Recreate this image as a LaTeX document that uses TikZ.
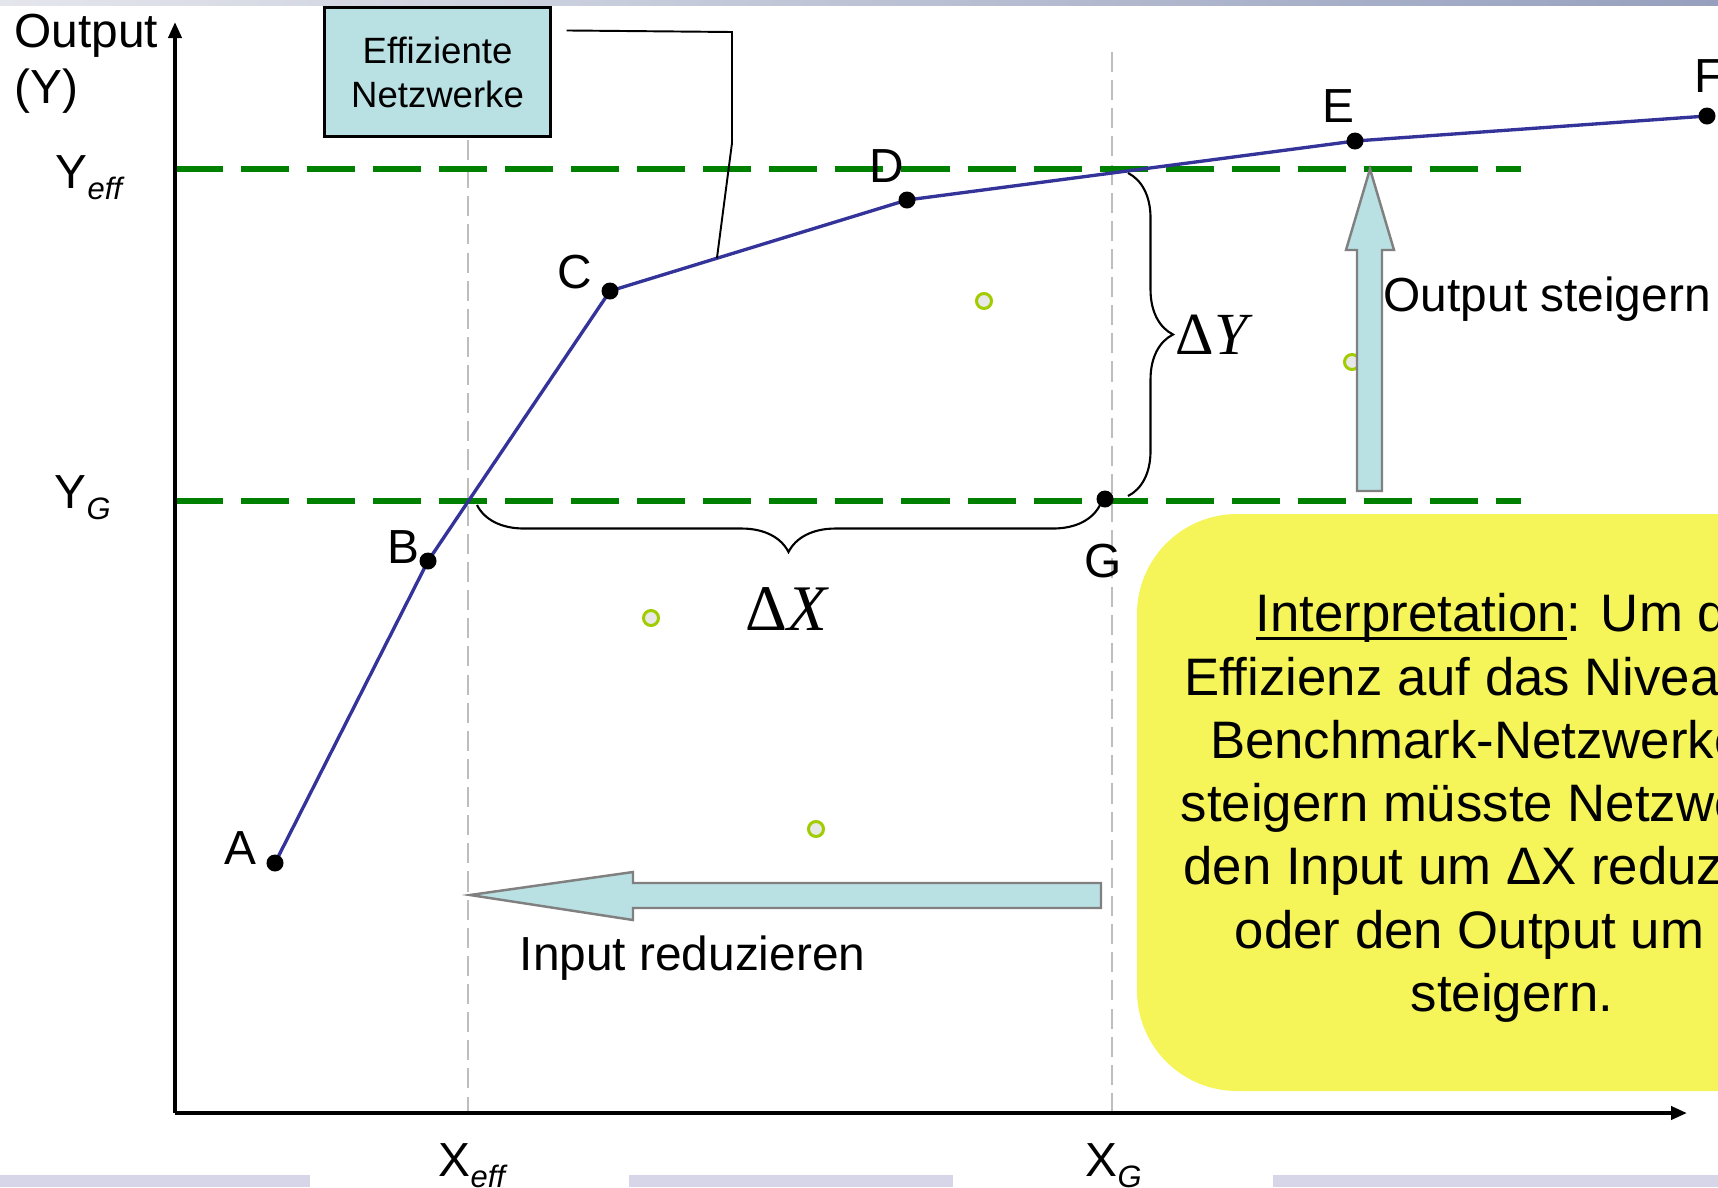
\documentclass[tikz,border=0pt]{standalone}
\usepackage{fontspec}
\setmainfont{Liberation Sans}
\newfontfamily\serifgr{Liberation Serif}
\usetikzlibrary{decorations.pathreplacing,arrows.meta,calc}
\definecolor{frontier}{RGB}{51,51,153}
\definecolor{effgreen}{RGB}{0,128,0}
\definecolor{guide}{RGB}{190,190,190}
\definecolor{paleblue}{RGB}{185,224,227}
\definecolor{arrowgray}{RGB}{128,128,128}
\definecolor{noteyellow}{RGB}{245,245,90}
\definecolor{ptgreen}{RGB}{160,204,0}
\definecolor{ptfill}{RGB}{232,232,232}
\definecolor{barcol}{RGB}{214,214,232}
\definecolor{bandleft}{RGB}{228,230,236}
\definecolor{bandright}{RGB}{150,160,190}
\newcommand{\mylbl}{\fontsize{13.6}{16}\selectfont}
\newcommand{\mysubtxt}[1]{\raisebox{-3.2pt}{\fontsize{8.8}{10}\selectfont\itshape #1}}
\newcommand{\myul}[1]{\setbox0\hbox{#1}\rlap{\rule[-2.4pt]{\wd0}{0.85pt}}\box0}
\begin{document}
\begin{tikzpicture}[x=0.01cm,y=-0.01cm,
  lab/.style={font=\mylbl, inner sep=0pt},
  guideline/.style={guide, line width=0.57pt, dash pattern=on 5.7pt off 2.3pt},
  effline/.style={effgreen, line width=1.5pt, dash pattern=on 13.66pt off 5.12pt},
  frontierline/.style={frontier, line width=0.95pt},
  axisline/.style={black, line width=1.1pt, -{Triangle[length=1.6mm,width=1.3mm]}},
  datapt/.style={draw=ptgreen, fill=ptfill, line width=0.85pt},
  bracestyle/.style={black, line width=0.6pt, decorate},
  blockarrow/.style={draw=arrowgray, fill=paleblue, line width=0.7pt, line join=miter},
  effbox/.style={draw=black, fill=paleblue, line width=0.85pt, minimum width=22.5mm, minimum height=12.8mm, align=center, font=\fontsize{10.4}{12.5}\selectfont, inner sep=0pt},
  conn/.style={black, line width=0.55pt}
]
\useasboundingbox (0,0) rectangle (1718,1187);
\clip (0,0) rectangle (1718,1187);
% slide decoration
\shade[left color=bandleft, right color=bandright] (0,0) rectangle (1718,5);
\fill[barcol] (0,1175) rectangle (310,1187);
\fill[barcol] (629,1175) rectangle (953,1187);
\fill[barcol] (1273,1175) rectangle (1718,1187);

% points
\coordinate (A) at (275,863);
\coordinate (B) at (428,561);
\coordinate (C) at (610,291);
\coordinate (D) at (907,200);
\coordinate (E) at (1355,141);
\coordinate (F) at (1707,116);
\coordinate (G) at (1105,499);

% guide lines
\draw[guideline] (468,140) -- (468,1113);
\draw[guideline] (1112,52) -- (1112,1113);

% yellow note box
\fill[noteyellow, rounded corners=10mm] (1137,514) rectangle (1900,1091);

% efficiency levels
\draw[effline] (175,169) -- (1521,169);
\draw[effline] (175,501) -- (1521,501);

% axes
\draw[axisline] (175,1113) -- (175,22);
\draw[axisline] (175,1113) -- (1687,1113);

% frontier
\draw[frontierline] (A) -- (B) -- (C) -- (D) -- (E) -- (F);
\foreach \p in {A,B,C,D,E,F,G} \fill (\p) circle[radius=0.85mm];

% other networks
\draw[datapt] (984,301) circle[radius=0.75mm];
\draw[datapt] (651,618) circle[radius=0.75mm];
\draw[datapt] (816,829) circle[radius=0.75mm];
\draw[datapt] (1352,362) circle[radius=0.75mm];

% braces
\draw[bracestyle, decoration={brace, amplitude=4.7mm}] (1100,505) -- (477,505);
\draw[bracestyle, decoration={brace, amplitude=4.5mm}] (1128,173) -- (1128,496);
\node[inner sep=0pt, anchor=base] (dx) at (787,630) {\serifgr\fontsize{18.5}{20}\selectfont Δ\textit{X}};
\node[inner sep=0pt, anchor=base west] (dy) at (1175,354) {\serifgr\fontsize{17}{19}\selectfont Δ\textit{Y}};

% block arrows
\filldraw[blockarrow] (1357,491) -- (1357,250) -- (1346,250) -- (1370,169) -- (1394,250) -- (1382,250) -- (1382,491) -- cycle;
\filldraw[blockarrow] (1101,883) -- (633,883) -- (633,872) -- (470,895) -- (633,920) -- (633,908) -- (1101,908) -- cycle;

% labels
\node[lab, anchor=base west] (out1) at (14,47) {Output};
\node[lab, anchor=base west] (out2) at (14,103) {(Y)};
\node[lab, anchor=base west] (yeff) at (55,188) {Y\mysubtxt{eff}};
\node[lab, anchor=base west] (yg) at (54,508) {Y\mysubtxt{G}};
\node[lab, anchor=base west] (xeff) at (438,1176) {X\mysubtxt{eff}};
\node[lab, anchor=base west] (xg) at (1085,1176) {X\mysubtxt{G}};
\node[lab, anchor=base] (la) at (240,864) {A};
\node[lab, anchor=base] (lb) at (403,563) {B};
\node[lab, anchor=base] (lc) at (575,288) {C};
\node[lab, anchor=base] (ld) at (887,182) {D};
\node[lab, anchor=base] (le) at (1338,122) {E};
\node[lab, anchor=base west] (lf) at (1694,92) {F};
\node[lab, anchor=base] (lg) at (1103,577) {G};
\node[lab, anchor=base west] (inred) at (519,970) {Input reduzieren};
\node[lab, anchor=base west] (outst) at (1383,311) {Output steigern};

% interpretation text
\node[inner sep=0pt, align=center, font=\fontsize{15}{18}\selectfont] (interp) at (1512,808)
  {\myul{Interpretation}: Um die\\
   Effizienz auf das Niveau der\\
   Benchmark-Netzwerke zu\\
   steigern müsste Netzwerk G\\
   den Input um ΔX reduzieren\\
   oder den Output um ΔY\\
   steigern.};

% efficient networks box and connector
\node[effbox] (eff) at (437.5,72) {Effiziente\\Netzwerke};
\coordinate (cstart) at ($(eff.north east)+(15,24)$);
\coordinate (cbend1) at (732,32);
\coordinate (cbend2) at (732,143);
\coordinate (cend) at ($(C)!0.36!(D)$);
\draw[conn] (cstart) -- (cbend1) -- (cbend2) -- (cend);
\end{tikzpicture}
\end{document}
